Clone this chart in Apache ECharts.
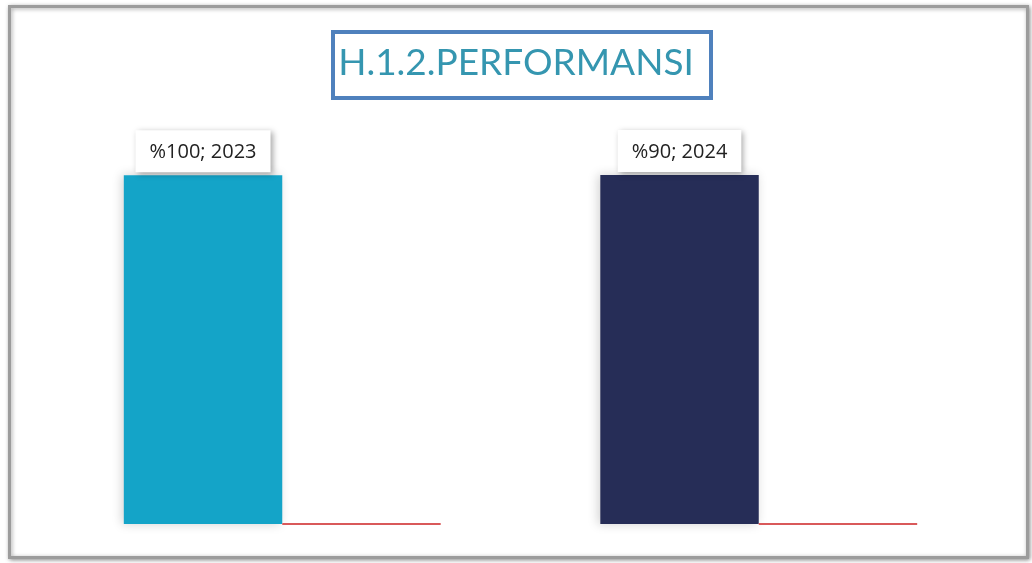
<!DOCTYPE html>
<html><head><meta charset="utf-8">
<script src="https://cdn.jsdelivr.net/npm/echarts@6/dist/echarts.min.js"></script>
<style>html,body{margin:0;padding:0;background:#fff}#c{width:1032px;height:563px}</style>
</head><body><div id="c"></div>
<script>
const categories = ['%100', '%90'];
const mainValues = [2023, 2024];
const redValues = [0, 0];
const barColors = ['#14a4c8', '#262d57'];
const titleText = 'H.1.2.PERFORMANSI';

const chart = echarts.init(document.getElementById('c'));
chart.setOption({
  backgroundColor: '#ffffff',
  animation: false,
  graphic: [
    { type: 'rect', left: 8, top: 5, shape: { width: 1018, height: 551 }, z: -1,
      style: { fill: '#fff', stroke: '#9c9c9c', lineWidth: 3, shadowBlur: 4, shadowColor: 'rgba(0,0,0,0.35)', shadowOffsetX: 1, shadowOffsetY: 1 } },
    { type: 'rect', left: 331, top: 30, shape: { width: 378, height: 66 },
      style: { fill: '#fff', stroke: '#4f81bd', lineWidth: 4 } },
    { type: 'text', left: 'center', top: 45, style: { text: titleText, font: '37px Lato, "Open Sans", sans-serif',
      fill: '#3596b0' } }
  ],
  grid: { left: 44, right: 35, top: 93, bottom: 39 },
  xAxis: { type: 'category', data: categories, show: false },
  yAxis: { type: 'value', min: 0, max: 2500, show: false },
  series: [
    { type: 'bar', data: mainValues.map((v, i) => ({ value: v, itemStyle: { color: barColors[i] } })),
      barGap: '0%', barCategoryGap: '33.5%',
      itemStyle: { shadowBlur: 10, shadowColor: 'rgba(0,0,0,0.18)', shadowOffsetX: -2 },
      label: { show: true, position: 'top', distance: 3,
        formatter: p => p.name + '; ' + p.value,
        color: '#222', fontSize: 20, fontFamily: '"Open Sans", sans-serif',
        backgroundColor: '#fff', padding: [12, 14, 10, 14],
        shadowBlur: 6, shadowColor: 'rgba(0,0,0,0.35)', shadowOffsetX: 2, shadowOffsetY: 2 } },
    { type: 'bar', data: redValues,
      itemStyle: { color: '#d9595a', borderColor: '#d9595a', borderWidth: 2 } }
  ]
});
</script></body></html>
